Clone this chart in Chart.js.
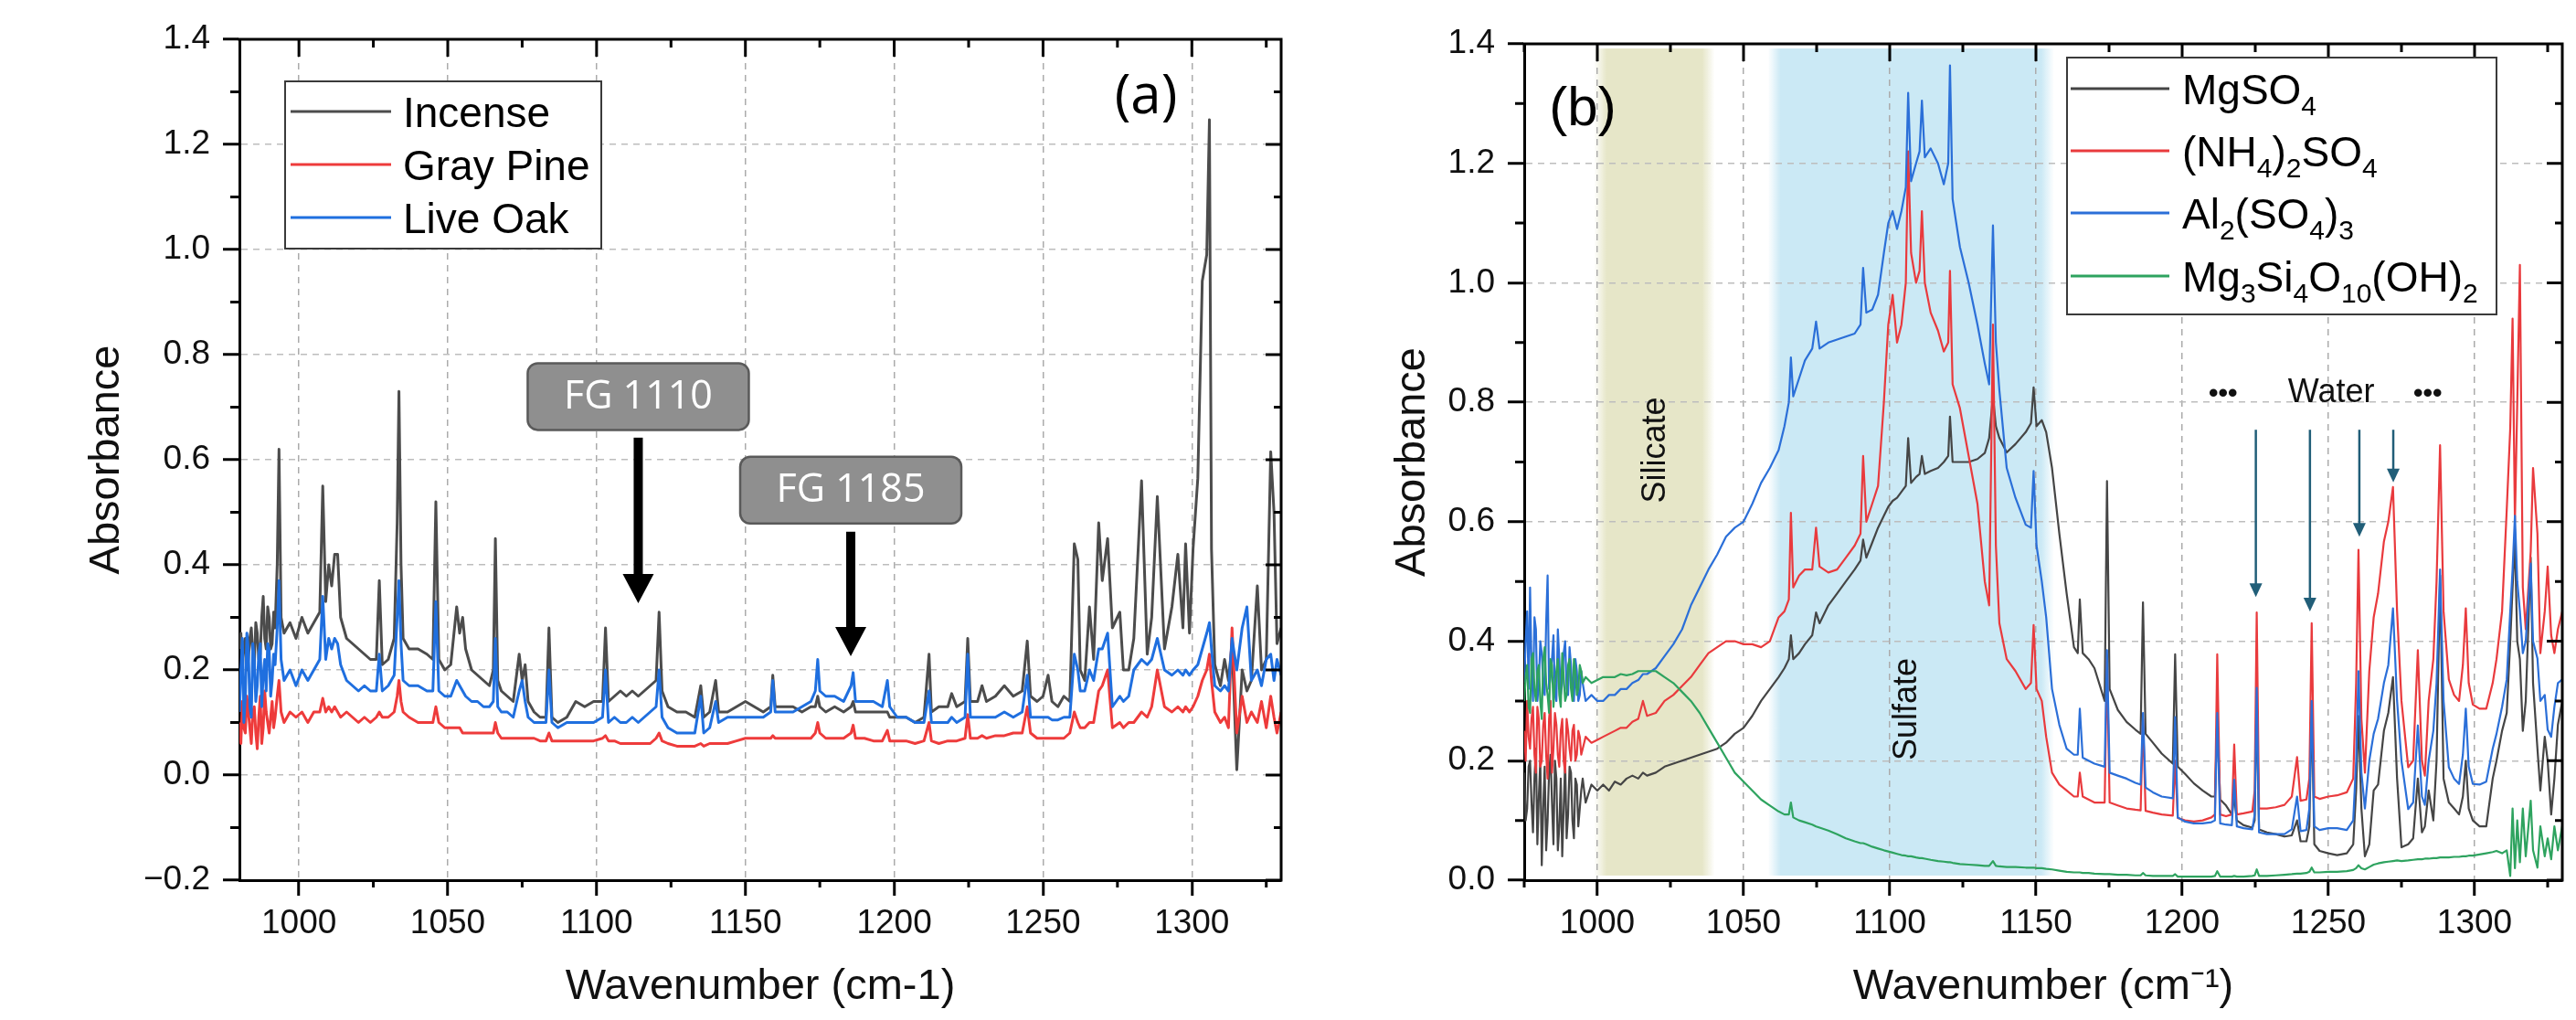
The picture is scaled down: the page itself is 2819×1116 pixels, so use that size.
<!DOCTYPE html>
<html>
<head>
<meta charset="utf-8">
<title>FTIR absorbance spectra</title>
<script src="https://cdn.jsdelivr.net/npm/chart.js@4.4.1/dist/chart.umd.min.js"></script>
<style>
  html, body { margin: 0; padding: 0; background: #fff; }
  body { width: 2819px; height: 1116px; position: relative; overflow: hidden; }
  .panel { position: absolute; top: 0; }
  #panelA { left: 0; }
  #panelB { left: 1420px; }
</style>
</head>
<body>
<div class="panel" id="panelA"><canvas id="chartA" width="1420" height="1116"></canvas></div>
<div class="panel" id="panelB"><canvas id="chartB" width="1399" height="1116"></canvas></div>
<script>
const FONT = '"Liberation Sans", Arial, Helvetica, sans-serif';
const FONT2 = '"Open Sans", "Noto Sans", sans-serif';

// ---- panel (a): wood smoke samples ----
const wnA = [
  980, 980.5, 981, 981.5, 982, 982.5, 983, 983.5, 984, 984.5,
  985, 985.5, 986, 986.5, 987, 987.5, 988, 988.5, 989, 989.5,
  990, 990.5, 991, 991.5, 992, 992.7, 993.3, 994, 995, 997,
  999, 1001,
  1003, 1005, 1007, 1008, 1009, 1010, 1011, 1012, 1013, 1014,
  1016, 1018, 1020, 1022, 1024, 1026, 1027, 1028, 1030, 1032,
  1033, 1033.6, 1034.3, 1035, 1037, 1040, 1043, 1045, 1046, 1047,
  1049, 1051, 1053, 1054, 1055, 1056, 1058, 1060, 1062, 1064,
  1065.3, 1066, 1066.8, 1068, 1070, 1072, 1074, 1075, 1076, 1077,
  1079, 1081, 1083, 1084, 1085, 1087, 1090, 1093, 1096, 1099,
  1102, 1103, 1104, 1106, 1108, 1110, 1112, 1114, 1116, 1118,
  1120, 1121, 1122, 1124, 1127, 1130, 1133, 1135, 1136, 1138,
  1140, 1141, 1144, 1147, 1150, 1153, 1156, 1158.5, 1159.2, 1160,
  1163, 1166, 1169, 1172, 1173.5, 1174.3, 1175, 1177, 1180, 1183,
  1185.5, 1186.2, 1187, 1190, 1193, 1196, 1197.7, 1198.5, 1201, 1204,
  1207, 1210, 1211.7, 1212.5, 1215, 1218, 1219.3, 1221, 1223.8, 1224.7,
  1225.6, 1228, 1229.5, 1231, 1234, 1237, 1240, 1243, 1244.7, 1245.8,
  1248, 1250, 1251.7, 1253, 1255, 1257, 1259, 1260.5, 1261.7, 1262.5,
  1264, 1265.6, 1267, 1268.7, 1269.9, 1271.7, 1273.3, 1275.8, 1277, 1278.8,
  1280.5, 1283.1, 1285, 1286.5, 1288.4, 1290.8, 1293.3, 1295.3, 1297, 1297.9,
  1299.2, 1300.4, 1302, 1303.5, 1305, 1305.9, 1306.6, 1307.7, 1309.6, 1311,
  1312.3, 1313.5, 1315.1, 1316.9, 1318.5, 1320, 1322, 1323.4, 1325, 1326.5,
  1327.6, 1328.6, 1330
];
const incense = [
  0.24, 0.27, 0.20, 0.25, 0.26, 0.20, 0.22, 0.26, 0.28, 0.23,
  0.21, 0.29, 0.27, 0.22, 0.23, 0.30, 0.34, 0.26, 0.24, 0.32,
  0.30, 0.24, 0.25, 0.31, 0.28, 0.40, 0.62, 0.30, 0.27, 0.29,
  0.26, 0.30,
  0.27, 0.29, 0.31, 0.55, 0.33, 0.40, 0.36, 0.42, 0.42, 0.30,
  0.26, 0.25, 0.24, 0.23, 0.22, 0.22, 0.37, 0.21, 0.22, 0.26,
  0.48, 0.73, 0.40, 0.26, 0.24, 0.24, 0.23, 0.22, 0.52, 0.22,
  0.20, 0.21, 0.32, 0.27, 0.30, 0.24, 0.20, 0.19, 0.18, 0.17,
  0.20, 0.45, 0.18, 0.16, 0.15, 0.14, 0.23, 0.18, 0.21, 0.14,
  0.12, 0.11, 0.11, 0.28, 0.11, 0.10, 0.11, 0.14, 0.13, 0.14,
  0.14, 0.28, 0.14, 0.15, 0.16, 0.15, 0.16, 0.15, 0.16, 0.17,
  0.18, 0.31, 0.16, 0.13, 0.12, 0.12, 0.11, 0.17, 0.11, 0.12,
  0.18, 0.12, 0.12, 0.13, 0.14, 0.13, 0.12, 0.13, 0.19, 0.13,
  0.13, 0.13, 0.12, 0.13, 0.13, 0.15, 0.13, 0.12, 0.13, 0.12,
  0.13, 0.14, 0.12, 0.12, 0.12, 0.12, 0.12, 0.11, 0.11, 0.11,
  0.10, 0.11, 0.23, 0.12, 0.13, 0.13, 0.155, 0.13, 0.14, 0.26,
  0.14, 0.14, 0.17, 0.14, 0.15, 0.17, 0.15, 0.16, 0.255, 0.15,
  0.14, 0.15, 0.19, 0.14, 0.13, 0.15, 0.14, 0.44, 0.41, 0.20,
  0.18, 0.32, 0.22, 0.48, 0.37, 0.45, 0.28, 0.31, 0.20, 0.20,
  0.26, 0.56, 0.23, 0.30, 0.53, 0.24, 0.32, 0.42, 0.28, 0.44,
  0.27, 0.43, 0.565, 0.94, 0.99, 1.247, 0.43, 0.21, 0.17, 0.22,
  0.18, 0.25, 0.01, 0.20, 0.16, 0.18, 0.36, 0.20, 0.22, 0.615,
  0.50, 0.25, 0.28
];
const grayPine = [
  0.10, 0.06, 0.14, 0.09, 0.08, 0.15, 0.12, 0.09, 0.06, 0.12,
  0.13, 0.08, 0.05, 0.11, 0.15, 0.06, 0.09, 0.16, 0.12, 0.10,
  0.08, 0.11, 0.14, 0.09, 0.11, 0.15, 0.18, 0.12, 0.10, 0.12,
  0.11, 0.12,
  0.10, 0.12, 0.12, 0.146, 0.12, 0.13, 0.12, 0.13, 0.12, 0.11,
  0.12, 0.11, 0.10, 0.11, 0.10, 0.11, 0.12, 0.11, 0.11, 0.12,
  0.15, 0.18, 0.14, 0.12, 0.11, 0.10, 0.10, 0.10, 0.13, 0.10,
  0.09, 0.09, 0.09, 0.09, 0.08, 0.08, 0.08, 0.08, 0.08, 0.08,
  0.08, 0.10, 0.08, 0.07, 0.07, 0.07, 0.07, 0.07, 0.07, 0.07,
  0.07, 0.065, 0.065, 0.08, 0.065, 0.065, 0.065, 0.065, 0.065, 0.065,
  0.07, 0.075, 0.065, 0.065, 0.06, 0.06, 0.06, 0.06, 0.06, 0.06,
  0.07, 0.08, 0.065, 0.06, 0.055, 0.055, 0.055, 0.06, 0.055, 0.06,
  0.06, 0.06, 0.06, 0.065, 0.07, 0.07, 0.07, 0.07, 0.075, 0.07,
  0.07, 0.07, 0.07, 0.07, 0.08, 0.10, 0.08, 0.07, 0.07, 0.07,
  0.08, 0.095, 0.07, 0.07, 0.065, 0.065, 0.085, 0.065, 0.065, 0.065,
  0.06, 0.065, 0.10, 0.065, 0.06, 0.065, 0.065, 0.065, 0.07, 0.115,
  0.07, 0.07, 0.075, 0.07, 0.075, 0.075, 0.08, 0.08, 0.13, 0.08,
  0.07, 0.07, 0.07, 0.07, 0.07, 0.07, 0.08, 0.12, 0.10, 0.09,
  0.09, 0.10, 0.10, 0.16, 0.17, 0.20, 0.09, 0.10, 0.09, 0.10,
  0.10, 0.12, 0.11, 0.13, 0.20, 0.13, 0.12, 0.13, 0.12, 0.13,
  0.12, 0.13, 0.15, 0.18, 0.20, 0.23, 0.18, 0.12, 0.10, 0.11,
  0.09, 0.28, 0.08, 0.15, 0.10, 0.12, 0.10, 0.14, 0.09, 0.15,
  0.11, 0.08, 0.12
];
const liveOak = [
  0.12, 0.20, 0.26, 0.10, 0.15, 0.27, 0.24, 0.13, 0.11, 0.25,
  0.22, 0.14, 0.17, 0.23, 0.25, 0.13, 0.19, 0.22, 0.16, 0.25,
  0.24, 0.15, 0.18, 0.23, 0.21, 0.28, 0.37, 0.22, 0.18, 0.20,
  0.17, 0.20,
  0.18, 0.20, 0.22, 0.34, 0.22, 0.26, 0.24, 0.26, 0.25, 0.21,
  0.18, 0.17, 0.16, 0.17, 0.16, 0.16, 0.23, 0.16, 0.17, 0.19,
  0.30, 0.37, 0.25, 0.18, 0.17, 0.17, 0.16, 0.16, 0.33, 0.16,
  0.15, 0.15, 0.18, 0.17, 0.16, 0.15, 0.14, 0.14, 0.13, 0.13,
  0.14, 0.26, 0.13, 0.12, 0.12, 0.11, 0.16, 0.18, 0.14, 0.11,
  0.10, 0.10, 0.10, 0.20, 0.10, 0.09, 0.10, 0.10, 0.10, 0.10,
  0.11, 0.20, 0.10, 0.11, 0.10, 0.10, 0.11, 0.10, 0.11, 0.12,
  0.13, 0.20, 0.11, 0.09, 0.08, 0.08, 0.08, 0.15, 0.08, 0.09,
  0.14, 0.10, 0.11, 0.11, 0.11, 0.11, 0.11, 0.12, 0.18, 0.12,
  0.12, 0.12, 0.13, 0.14, 0.16, 0.22, 0.16, 0.15, 0.15, 0.14,
  0.17, 0.195, 0.14, 0.14, 0.14, 0.13, 0.18, 0.13, 0.11, 0.11,
  0.10, 0.10, 0.16, 0.10, 0.10, 0.10, 0.11, 0.10, 0.11, 0.23,
  0.11, 0.11, 0.11, 0.11, 0.11, 0.12, 0.11, 0.12, 0.19, 0.11,
  0.11, 0.11, 0.11, 0.105, 0.105, 0.11, 0.11, 0.23, 0.20, 0.16,
  0.16, 0.20, 0.18, 0.24, 0.24, 0.27, 0.13, 0.15, 0.14, 0.15,
  0.20, 0.22, 0.21, 0.22, 0.26, 0.20, 0.19, 0.20, 0.19, 0.20,
  0.19, 0.20, 0.21, 0.24, 0.27, 0.29, 0.24, 0.17, 0.16, 0.17,
  0.16, 0.26, 0.20, 0.28, 0.32, 0.18, 0.20, 0.17, 0.22, 0.23,
  0.18, 0.22, 0.19
];
const labelsA = ['Incense', 'Gray Pine', 'Live Oak'];
const colorsA = ['#4c4c4c', '#ee3b3b', '#1f6fdf'];
const xTicksA = [1000, 1050, 1100, 1150, 1200, 1250, 1300];
const yTicksA = [-0.2, 0, 0.2, 0.4, 0.6, 0.8, 1.0, 1.2, 1.4];
const fgLabels = ['FG 1110', 'FG 1185'];
const fgArrowX = [1114, 1185.4];
const fgArrowTop = [0.642, 0.463];
const fgArrowTip = [0.327, 0.226];
const fgBoxY = [0.721, 0.543];

// ---- panel (b): reference salts ----
const wnB = [
  975, 975.5, 976, 976.5, 977, 977.5, 978, 978.5, 979, 979.5,
  980, 980.5, 981, 981.5, 982, 982.5, 983, 983.5, 984, 984.5,
  985, 985.5, 986, 986.5, 987, 987.5, 988, 988.5, 989, 989.5,
  990, 990.5, 991, 991.5, 992, 992.5, 993, 993.5, 994, 994.5,
  995, 996, 998, 1000, 1002, 1004, 1006, 1008, 1010, 1012,
  1014, 1015.6, 1017, 1020, 1023, 1026, 1029, 1032, 1035, 1038,
  1041, 1044, 1047, 1050, 1053, 1056, 1059, 1062, 1064, 1065.5,
  1066.2, 1067, 1069, 1071, 1073.5, 1074.8, 1076, 1079, 1082, 1085,
  1088, 1090, 1090.9, 1092, 1094, 1096, 1098, 1099.5, 1101, 1102.5,
  1104, 1105.5, 1106.3, 1107.3, 1109, 1110.2, 1111, 1112, 1114, 1116.5,
  1118.5, 1120, 1120.6, 1121.5, 1124, 1127, 1130, 1132.5, 1134, 1135.3,
  1136.3, 1137.5, 1140, 1143, 1146.5, 1148.3, 1149.2, 1150.2, 1152, 1153.5,
  1155.5, 1158, 1160.5, 1163, 1164.3, 1165, 1166, 1168, 1170, 1173.5,
  1174.3, 1175.2, 1178, 1181, 1184, 1185.8, 1186.6, 1187.5, 1190, 1193,
  1196.8, 1197.6, 1198.5, 1201, 1204, 1207, 1210, 1211.2, 1212, 1213,
  1215, 1217, 1217.8, 1218.7, 1221, 1224, 1224.8, 1225.5, 1226.3, 1229,
  1232, 1235, 1237.5, 1239.3, 1240.5, 1242.5, 1243.5, 1244.3, 1245.2, 1247,
  1250, 1253, 1256.3, 1258.5, 1259.5, 1260.3, 1261.3, 1262.5, 1264, 1265.5,
  1267, 1269, 1270.5, 1272.1, 1273.5, 1275, 1277.3, 1279, 1280.6, 1282,
  1283, 1284.3, 1285.9, 1287, 1288.2, 1289.4, 1291.2, 1293, 1294.7, 1296,
  1297, 1298, 1299.4, 1301.7, 1304, 1306.2, 1307.5, 1309.4, 1311, 1312.2,
  1313, 1313.8, 1314.6, 1315.5, 1316.5, 1317.5, 1319.2, 1320, 1321.5, 1322.5,
  1324, 1325, 1326.2, 1327.3, 1328.5, 1330
];
const mgso4 = [
  0.18, 0.10, 0.12, 0.19, 0.20, 0.13, 0.08, 0.17, 0.22, 0.06,
  0.14, 0.20, 0.025, 0.12, 0.19, 0.05, 0.10, 0.18, 0.21, 0.13,
  0.06, 0.20, 0.17, 0.05, 0.09, 0.17, 0.04, 0.12, 0.20, 0.07,
  0.11, 0.19, 0.18, 0.10, 0.07, 0.17, 0.16, 0.09, 0.12, 0.15,
  0.17, 0.13, 0.16, 0.15, 0.16, 0.15, 0.165, 0.16, 0.17, 0.175,
  0.17, 0.18, 0.175, 0.18, 0.19, 0.195, 0.20, 0.205, 0.21, 0.215,
  0.22, 0.23, 0.245, 0.255, 0.275, 0.30, 0.32, 0.34, 0.355, 0.37,
  0.41, 0.37, 0.38, 0.395, 0.41, 0.448, 0.43, 0.46, 0.48, 0.50,
  0.52, 0.535, 0.57, 0.54, 0.565, 0.59, 0.61, 0.625, 0.635, 0.64,
  0.65, 0.66, 0.74, 0.665, 0.675, 0.68, 0.71, 0.68, 0.685, 0.69,
  0.70, 0.71, 0.776, 0.70, 0.70, 0.70, 0.705, 0.715, 0.74, 0.81,
  0.76, 0.74, 0.716, 0.73, 0.75, 0.765, 0.825, 0.76, 0.77, 0.75,
  0.69, 0.58, 0.48, 0.39, 0.38, 0.47, 0.38, 0.37, 0.355, 0.30,
  0.668, 0.32, 0.285, 0.265, 0.252, 0.245, 0.465, 0.245, 0.23, 0.212,
  0.195, 0.378, 0.19, 0.178, 0.162, 0.15, 0.14, 0.14, 0.27, 0.135,
  0.125, 0.11, 0.14, 0.10, 0.092, 0.088, 0.10, 0.30, 0.085, 0.08,
  0.077, 0.073, 0.075, 0.10, 0.065, 0.065, 0.09, 0.294, 0.06, 0.049,
  0.045, 0.042, 0.045, 0.06, 0.15, 0.275, 0.12, 0.04, 0.06, 0.15,
  0.16, 0.25, 0.28, 0.34, 0.17, 0.055, 0.06, 0.07, 0.17, 0.08,
  0.09, 0.15, 0.10, 0.20, 0.51, 0.17, 0.13, 0.12, 0.11, 0.14,
  0.20, 0.12, 0.10, 0.09, 0.09, 0.17, 0.20, 0.25, 0.28, 0.40,
  0.49, 0.57, 0.40, 0.37, 0.25, 0.30, 0.54, 0.33, 0.22, 0.15,
  0.24, 0.20, 0.11, 0.17, 0.26, 0.30
];
const nh4so4 = [
  0.25, 0.20, 0.30, 0.24, 0.22, 0.27, 0.29, 0.21, 0.18, 0.29,
  0.27, 0.19, 0.20, 0.26, 0.28, 0.21, 0.17, 0.27, 0.30, 0.18,
  0.22, 0.28, 0.26, 0.21, 0.19, 0.25, 0.27, 0.20, 0.18, 0.27,
  0.25, 0.22, 0.20, 0.25, 0.26, 0.20, 0.21, 0.25, 0.24, 0.21,
  0.22, 0.24, 0.23, 0.235, 0.24, 0.245, 0.25, 0.255, 0.255, 0.265,
  0.27, 0.30, 0.275, 0.28, 0.30, 0.31, 0.325, 0.34, 0.36, 0.38,
  0.39, 0.40, 0.40, 0.395, 0.395, 0.39, 0.40, 0.44, 0.45, 0.47,
  0.615, 0.49, 0.51, 0.52, 0.52, 0.59, 0.525, 0.515, 0.52, 0.54,
  0.56, 0.58, 0.71, 0.60, 0.63, 0.66, 0.80, 0.93, 0.98, 0.90,
  0.93, 1.00, 1.22, 1.05, 1.00, 1.02, 1.12, 1.00, 0.95, 0.92,
  0.885, 0.90, 1.02, 0.83, 0.79, 0.71, 0.63, 0.50, 0.46, 0.93,
  0.56, 0.43, 0.37, 0.35, 0.32, 0.33, 0.427, 0.32, 0.30, 0.24,
  0.18, 0.16, 0.15, 0.14, 0.14, 0.18, 0.14, 0.135, 0.13, 0.13,
  0.37, 0.13, 0.125, 0.12, 0.118, 0.117, 0.27, 0.116, 0.113, 0.11,
  0.108, 0.20, 0.104, 0.10, 0.098, 0.10, 0.105, 0.11, 0.378, 0.11,
  0.107, 0.11, 0.227, 0.11, 0.112, 0.115, 0.15, 0.448, 0.12, 0.12,
  0.122, 0.126, 0.14, 0.206, 0.133, 0.135, 0.17, 0.43, 0.14, 0.136,
  0.14, 0.142, 0.147, 0.17, 0.33, 0.553, 0.27, 0.18, 0.35, 0.44,
  0.48, 0.567, 0.60, 0.658, 0.45, 0.30, 0.189, 0.20, 0.385, 0.20,
  0.175, 0.30, 0.37, 0.50, 0.728, 0.45, 0.336, 0.31, 0.30, 0.36,
  0.455, 0.33, 0.294, 0.287, 0.287, 0.33, 0.37, 0.45, 0.62, 0.756,
  0.94, 0.60, 0.80, 1.03, 0.49, 0.42, 0.55, 0.69, 0.58, 0.38,
  0.45, 0.525, 0.41, 0.38, 0.42, 0.45
];
const al2so43 = [
  0.33, 0.40, 0.45, 0.32, 0.49, 0.36, 0.30, 0.44, 0.42, 0.30,
  0.33, 0.40, 0.38, 0.33, 0.31, 0.43, 0.51, 0.32, 0.34, 0.37,
  0.41, 0.31, 0.30, 0.42, 0.37, 0.31, 0.33, 0.38, 0.40, 0.32,
  0.31, 0.39, 0.36, 0.31, 0.30, 0.37, 0.35, 0.30, 0.31, 0.35,
  0.33, 0.30, 0.31, 0.30, 0.30, 0.31, 0.31, 0.32, 0.32, 0.33,
  0.335, 0.345, 0.345, 0.355, 0.375, 0.395, 0.42, 0.46, 0.49, 0.52,
  0.545, 0.575, 0.59, 0.60, 0.63, 0.665, 0.69, 0.72, 0.76, 0.80,
  0.875, 0.81, 0.84, 0.87, 0.89, 0.935, 0.89, 0.90, 0.905, 0.91,
  0.915, 0.93, 1.025, 0.95, 0.955, 0.98, 1.05, 1.10, 1.12, 1.09,
  1.12, 1.16, 1.318, 1.17, 1.20, 1.22, 1.305, 1.21, 1.225, 1.20,
  1.165, 1.20, 1.364, 1.14, 1.06, 1.00, 0.93, 0.865, 0.83, 1.096,
  0.90, 0.82, 0.69, 0.64, 0.595, 0.59, 0.685, 0.56, 0.50, 0.44,
  0.32, 0.26, 0.22, 0.21, 0.21, 0.287, 0.205, 0.20, 0.195, 0.19,
  0.385, 0.18, 0.175, 0.17, 0.163, 0.16, 0.28, 0.155, 0.147, 0.14,
  0.137, 0.273, 0.105, 0.098, 0.095, 0.095, 0.097, 0.10, 0.28, 0.095,
  0.093, 0.092, 0.168, 0.09, 0.087, 0.085, 0.11, 0.322, 0.08, 0.077,
  0.077, 0.077, 0.085, 0.14, 0.082, 0.084, 0.12, 0.30, 0.09, 0.084,
  0.087, 0.087, 0.084, 0.10, 0.20, 0.35, 0.18, 0.12, 0.20, 0.245,
  0.27, 0.33, 0.36, 0.455, 0.30, 0.20, 0.119, 0.13, 0.259, 0.14,
  0.126, 0.20, 0.25, 0.33, 0.52, 0.30, 0.189, 0.17, 0.161, 0.21,
  0.287, 0.19, 0.161, 0.16, 0.165, 0.22, 0.245, 0.29, 0.336, 0.45,
  0.52, 0.61, 0.50, 0.45, 0.38, 0.40, 0.53, 0.40, 0.371, 0.30,
  0.31, 0.252, 0.24, 0.29, 0.33, 0.336
];
const talc = [
  0.30, 0.34, 0.36, 0.29, 0.28, 0.37, 0.38, 0.32, 0.30, 0.35,
  0.36, 0.30, 0.27, 0.37, 0.39, 0.33, 0.31, 0.28, 0.37, 0.36,
  0.29, 0.33, 0.35, 0.37, 0.31, 0.29, 0.38, 0.34, 0.30, 0.31,
  0.36, 0.37, 0.32, 0.30, 0.37, 0.35, 0.31, 0.32, 0.36, 0.35,
  0.33, 0.34, 0.33, 0.335, 0.34, 0.34, 0.34, 0.345, 0.343, 0.345,
  0.35, 0.35, 0.35, 0.35, 0.34, 0.33, 0.315, 0.30, 0.28, 0.255,
  0.23, 0.205, 0.18, 0.165, 0.15, 0.135, 0.125, 0.115, 0.11, 0.11,
  0.13, 0.105, 0.10, 0.097, 0.093, 0.09, 0.088, 0.083, 0.077, 0.07,
  0.065, 0.062, 0.062, 0.06, 0.056, 0.053, 0.05, 0.048, 0.046, 0.044,
  0.042, 0.041, 0.04, 0.04, 0.038, 0.037, 0.037, 0.036, 0.034, 0.032,
  0.031, 0.03, 0.03, 0.029, 0.027, 0.026, 0.025, 0.024, 0.024, 0.032,
  0.024, 0.023, 0.022, 0.022, 0.021, 0.021, 0.021, 0.02, 0.02, 0.019,
  0.018, 0.016, 0.014, 0.013, 0.013, 0.013, 0.012, 0.012, 0.011, 0.01,
  0.01, 0.01, 0.009, 0.009, 0.008, 0.008, 0.012, 0.008, 0.007, 0.007,
  0.007, 0.01, 0.006, 0.006, 0.006, 0.006, 0.006, 0.007, 0.015, 0.006,
  0.006, 0.006, 0.007, 0.006, 0.006, 0.007, 0.008, 0.018, 0.007, 0.007,
  0.008, 0.009, 0.01, 0.011, 0.011, 0.012, 0.014, 0.021, 0.013, 0.013,
  0.014, 0.014, 0.015, 0.017, 0.02, 0.025, 0.02, 0.018, 0.022, 0.026,
  0.028, 0.03, 0.031, 0.032, 0.033, 0.032, 0.033, 0.034, 0.035, 0.035,
  0.036, 0.036, 0.037, 0.037, 0.038, 0.038, 0.038, 0.039, 0.039, 0.04,
  0.04, 0.041, 0.041, 0.043, 0.045, 0.047, 0.049, 0.045, 0.05, 0.007,
  0.12, 0.02, 0.10, 0.03, 0.12, 0.04, 0.133, 0.05, 0.021, 0.09,
  0.04, 0.07, 0.035, 0.09, 0.05, 0.091
];
const labelsB = ['MgSO₄', '(NH₄)₂SO₄', 'Al₂(SO₄)₃', 'Mg₃Si₄O₁₀(OH)₂'];
const colorsB = ['#454545', '#e93a3d', '#2b6fd8', '#2ea35f'];
const xTicksB = [1000, 1050, 1100, 1150, 1200, 1250, 1300];
const yTicksB = [0, 0.2, 0.4, 0.6, 0.8, 1.0, 1.2, 1.4];
const bandLabels = ['Silicate', 'Sulfate'];
const bandFrom = [1001, 1060.5];
const bandTo = [1038, 1154];
const bandColors = ['230,230,200', '203,233,245'];
const bandLabelX = [1020, 1106];
const bandLabelY = [0.72, 0.286];
const waterX = [1225.2, 1243.7, 1260.6, 1272.2];
const waterTop = 0.754;
const waterTip = [0.474, 0.45, 0.575, 0.666];

const pts = (xs, ys) => xs.map((x, i) => ({ x: x, y: ys[i] }));
const SUB = '₀₁₂₃₄₅₆₇₈₉';

function yLabel(v) {
  const r = Math.round(v * 10) / 10;
  return (r < 0 ? '\u2212' : '') + Math.abs(r).toFixed(1);
}

function minorTicks(major, lo, hi) {
  const step = major[1] - major[0], out = [];
  for (let v = major[0] - step / 2; v <= hi + 1e-9; v += step) {
    if (v >= lo - 1e-9) out.push(v);
  }
  return out;
}

function xAxis(min, max, ticks, title) {
  return {
    type: 'linear', min: min, max: max,
    afterBuildTicks: s => { s.ticks = ticks.map(v => ({ value: v })); },
    ticks: { font: { family: FONT, size: 37 }, color: '#111', padding: 9, maxRotation: 0, autoSkip: false,
             callback: v => String(v) },
    grid: { color: '#ababab', lineWidth: 1.5, tickColor: '#000', tickWidth: 3, tickLength: 17 },
    border: { color: '#000', width: 3, dash: [7, 6] },
    title: { display: true, text: title, color: '#111', font: { family: FONT, size: 47 }, padding: { top: 0, bottom: 8 } },
    afterFit: s => { s.height = 153; }
  };
}

function yAxis(min, max, ticks, width, titlePad) {
  return {
    type: 'linear', min: min, max: max,
    afterBuildTicks: s => { s.ticks = ticks.map(v => ({ value: v })); },
    ticks: { font: { family: FONT, size: 37 }, color: '#111', padding: 14, callback: yLabel },
    grid: { color: '#bdbdbd', lineWidth: 1.5, tickColor: '#000', tickWidth: 3, tickLength: 18 },
    border: { color: '#000', width: 3, dash: [7, 6] },
    title: { display: true, text: 'Absorbance', color: '#111', font: { family: FONT, size: 47 }, padding: { top: titlePad, bottom: 0 } },
    afterFit: s => { s.width = width; }
  };
}

// closed frame with inward ticks on top/right, minor ticks everywhere
const framePlugin = {
  id: 'frame',
  afterDraw(chart) {
    const { ctx, chartArea: a, scales: { x, y } } = chart;
    const mx = x.ticks.map(t => t.value), my = y.ticks.map(t => t.value);
    ctx.save();
    ctx.strokeStyle = '#000';
    ctx.lineWidth = 3;
    ctx.beginPath();
    ctx.moveTo(a.left - 1.5, a.top);
    ctx.lineTo(a.right, a.top);
    ctx.lineTo(a.right, a.bottom + 1.5);
    mx.forEach(v => { const p = x.getPixelForValue(v); ctx.moveTo(p, a.top); ctx.lineTo(p, a.top + 19); });
    minorTicks(mx, x.min, x.max).forEach(v => {
      const p = x.getPixelForValue(v);
      ctx.moveTo(p, a.top); ctx.lineTo(p, a.top + 9);
      ctx.moveTo(p, a.bottom); ctx.lineTo(p, a.bottom + 8);
    });
    my.forEach(v => { const p = y.getPixelForValue(v); ctx.moveTo(a.right, p); ctx.lineTo(a.right - 17, p); });
    minorTicks(my, y.min, y.max).forEach(v => {
      const p = y.getPixelForValue(v);
      ctx.moveTo(a.right, p); ctx.lineTo(a.right - 8, p);
      ctx.moveTo(a.left - 10, p); ctx.lineTo(a.left, p);
    });
    ctx.stroke();
    ctx.restore();
  }
};

// text with unicode subscript digits drawn smaller and lowered
function drawRich(ctx, text, x, yMid, size) {
  const base = yMid + size * 0.36;
  const runs = [];
  for (const ch of text) {
    const k = SUB.indexOf(ch);
    const sub = k >= 0;
    const c = sub ? String(k) : ch;
    if (runs.length && runs[runs.length - 1].sub === sub) runs[runs.length - 1].t += c;
    else runs.push({ sub: sub, t: c });
  }
  ctx.textAlign = 'left';
  ctx.textBaseline = 'alphabetic';
  let cx = x;
  runs.forEach(r => {
    ctx.font = (r.sub ? Math.round(size * 0.66) : size) + 'px ' + FONT;
    ctx.fillText(r.t, cx, r.sub ? base + size * 0.28 : base);
    cx += ctx.measureText(r.t).width;
  });
}

function drawLegend(chart, box, rows, lineX0, lineX1, textX, size) {
  const ctx = chart.ctx;
  ctx.save();
  ctx.fillStyle = '#fff';
  ctx.fillRect(box[0], box[1], box[2] - box[0], box[3] - box[1]);
  ctx.strokeStyle = '#3a3a3a';
  ctx.lineWidth = 2;
  ctx.strokeRect(box[0], box[1], box[2] - box[0], box[3] - box[1]);
  chart.data.datasets.forEach((ds, i) => {
    ctx.strokeStyle = ds.borderColor;
    ctx.lineWidth = 3;
    ctx.beginPath();
    ctx.moveTo(lineX0, rows[i]);
    ctx.lineTo(lineX1, rows[i]);
    ctx.stroke();
    ctx.fillStyle = '#000';
    drawRich(ctx, ds.label, textX, rows[i], size);
  });
  ctx.restore();
}

const notesA = {
  id: 'notesA',
  afterDraw(chart) {
    const { ctx, scales: { x, y }, chartArea: a } = chart;
    ctx.save();
    fgLabels.forEach((txt, i) => {
      const px = x.getPixelForValue(fgArrowX[i]);
      const y0 = y.getPixelForValue(fgArrowTop[i]);
      const y1 = y.getPixelForValue(fgArrowTip[i]);
      ctx.fillStyle = '#000';
      ctx.fillRect(px - 5, y0, 10, y1 - y0 - 30);
      ctx.beginPath();
      ctx.moveTo(px - 17, y1 - 32);
      ctx.lineTo(px + 17, y1 - 32);
      ctx.lineTo(px, y1);
      ctx.closePath();
      ctx.fill();
      const by = y.getPixelForValue(fgBoxY[i]);
      ctx.beginPath();
      ctx.roundRect(px - 121, by - 36, 242, 73, 11);
      ctx.fillStyle = '#8f8f8f';
      ctx.fill();
      ctx.lineWidth = 2.5;
      ctx.strokeStyle = '#5a5a5a';
      ctx.stroke();
      ctx.fillStyle = '#fff';
      ctx.font = '43px ' + FONT2;
      ctx.textAlign = 'center';
      ctx.textBaseline = 'middle';
      ctx.fillText(txt, px, by + 1);
    });
    ctx.fillStyle = '#000';
    ctx.font = '60px ' + FONT2;
    ctx.textAlign = 'center';
    ctx.textBaseline = 'middle';
    ctx.fillText('(a)', a.right - 148, a.top + 64);
    ctx.restore();
    drawLegend(chart, [312, 89, 658, 272], [122, 180, 238], 318, 428, 441, 46);
  }
};

const notesB = {
  id: 'notesB',
  beforeDraw(chart) {
    const { ctx, scales: { x }, chartArea: a } = chart;
    ctx.save();
    bandFrom.forEach((from, i) => {
      const x0 = x.getPixelForValue(from), x1 = x.getPixelForValue(bandTo[i]);
      const f = 7, w = x1 - x0 + 2 * f, s = 2 * f / w;
      const g = ctx.createLinearGradient(x0 - f, 0, x1 + f, 0);
      g.addColorStop(0, 'rgba(' + bandColors[i] + ',0)');
      g.addColorStop(s, 'rgba(' + bandColors[i] + ',1)');
      g.addColorStop(1 - s, 'rgba(' + bandColors[i] + ',1)');
      g.addColorStop(1, 'rgba(' + bandColors[i] + ',0)');
      ctx.fillStyle = g;
      ctx.fillRect(x0 - f, a.top + 5, w, a.bottom - a.top - 10);
    });
    ctx.restore();
  },
  afterDraw(chart) {
    const { ctx, scales: { x, y }, chartArea: a } = chart;
    ctx.save();
    ctx.fillStyle = '#111';
    ctx.font = '36px ' + FONT;
    ctx.textAlign = 'center';
    ctx.textBaseline = 'middle';
    bandLabels.forEach((txt, i) => {
      ctx.save();
      ctx.translate(x.getPixelForValue(bandLabelX[i]), y.getPixelForValue(bandLabelY[i]));
      ctx.rotate(-Math.PI / 2);
      ctx.fillText(txt, 0, 0);
      ctx.restore();
    });
    const wy = y.getPixelForValue(0.816);
    ctx.fillText('Water', x.getPixelForValue(1251), wy);
    ctx.font = 'bold 30px ' + FONT;
    ctx.fillText('•••', x.getPixelForValue(1214), wy + 2);
    ctx.fillText('•••', x.getPixelForValue(1284), wy + 2);
    ctx.strokeStyle = '#215e78';
    ctx.fillStyle = '#215e78';
    ctx.lineWidth = 2.5;
    waterX.forEach((wx, i) => {
      const px = x.getPixelForValue(wx);
      const y0 = y.getPixelForValue(waterTop), y1 = y.getPixelForValue(waterTip[i]);
      ctx.beginPath();
      ctx.moveTo(px, y0);
      ctx.lineTo(px, y1 - 12);
      ctx.stroke();
      ctx.beginPath();
      ctx.moveTo(px - 7, y1 - 15);
      ctx.lineTo(px + 7, y1 - 15);
      ctx.lineTo(px, y1);
      ctx.closePath();
      ctx.fill();
    });
    ctx.fillStyle = '#000';
    ctx.font = '60px ' + FONT;
    ctx.fillText('(b)', a.left + 64, a.top + 72);
    ctx.restore();
    drawLegend(chart, [842, 63, 1312, 344], [97, 165, 233, 302], 846, 954, 968, 46);
  }
};

function baseOptions(padding) {
  return {
    responsive: false,
    animation: false,
    devicePixelRatio: 1,
    events: [],
    layout: { padding: padding },
    plugins: { legend: { display: false }, tooltip: { enabled: false } }
  };
}

document.addEventListener('DOMContentLoaded', function () {
  const seriesA = [incense, grayPine, liveOak];
  const optsA = baseOptions({ left: 0, right: 18, top: 43, bottom: 0 });
  optsA.scales = {
    x: xAxis(980, 1330, xTicksA, 'Wavenumber (cm-1)'),
    y: yAxis(-0.2, 1.4, yTicksA, 262, 89)
  };
  new Chart(document.getElementById('chartA'), {
    type: 'scatter',
    data: {
      datasets: labelsA.map((label, i) => ({
        label: label,
        data: pts(wnA, seriesA[i]),
        borderColor: colorsA[i],
        borderWidth: 3,
        borderJoinStyle: 'round',
        showLine: true,
        pointRadius: 0,
        order: 3 - i
      }))
    },
    options: optsA,
    plugins: [framePlugin, notesA]
  });

  const seriesB = [mgso4, nh4so4, al2so43, talc];
  const optsB = baseOptions({ left: 0, right: 15, top: 48, bottom: 0 });
  optsB.scales = {
    x: xAxis(975, 1330, xTicksB, 'Wavenumber (cm⁻¹)'),
    y: yAxis(0, 1.4, yTicksB, 248, 98)
  };
  new Chart(document.getElementById('chartB'), {
    type: 'scatter',
    data: {
      datasets: labelsB.map((label, i) => ({
        label: label,
        data: pts(wnB, seriesB[i]),
        borderColor: colorsB[i],
        borderWidth: 2.2,
        borderJoinStyle: 'round',
        showLine: true,
        pointRadius: 0,
        order: 4 - i
      }))
    },
    options: optsB,
    plugins: [framePlugin, notesB]
  });
});
</script>
</body>
</html>
